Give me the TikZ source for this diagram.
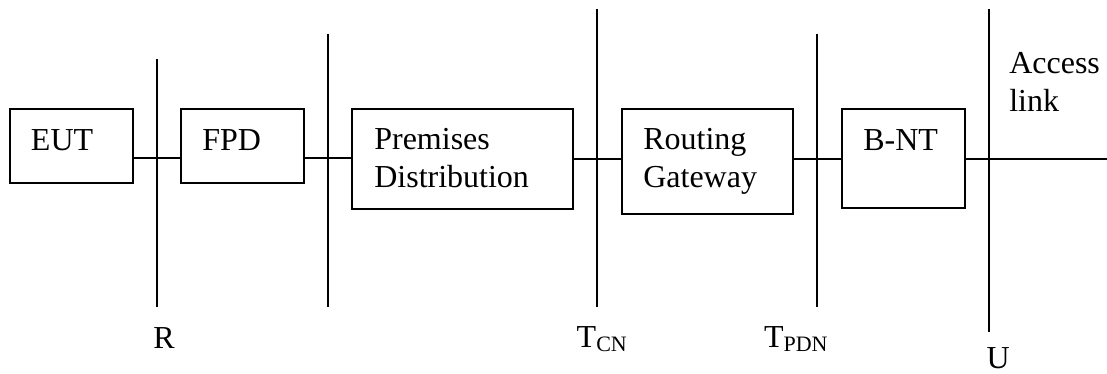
\documentclass[tikz,border=0pt]{standalone}
\usepackage{fontspec}
\setmainfont{Liberation Serif}
\begin{document}
\begin{tikzpicture}[x=0.5pt,y=-0.5pt,
  every node/.style={inner sep=0pt, outer sep=0pt},
  unit/.style={draw, rectangle, line width=1pt, anchor=north west},
  txt/.style={anchor=base west, align=left, font=\fontsize{16}{18.9}\selectfont},
  refline/.style={line width=1pt},
  link/.style={line width=1pt}]
\newcommand{\sub}[1]{\raisebox{-2pt}{\fontsize{11}{13}\selectfont #1}}
\useasboundingbox (0,0) rectangle (1107,374);

% functional units
\node[unit, minimum width=61.5pt,  minimum height=37pt]   (EUT)  at (9.5,109)   {};
\node[unit, minimum width=61.35pt, minimum height=37pt]   (FPD)  at (181,109)   {};
\node[unit, minimum width=110.5pt, minimum height=50pt]   (PD)   at (352.3,109) {};
\node[unit, minimum width=85.8pt,  minimum height=52.5pt] (RG)   at (621.7,109) {};
\node[unit, minimum width=61.35pt, minimum height=49.65pt](BNT)  at (842,109)   {};

% unit names (base anchor of a two-line node sits on its last line)
\node[txt] (tEUT) at (31,150)      {EUT};
\node[txt] (tFPD) at (202.3,150)   {FPD};
\node[txt] (tPD)  at (374.3,187.3) {Premises\\Distribution};
\node[txt] (tRG)  at (643.3,187)   {Routing\\Gateway};
\node[txt] (tBNT) at (863.3,150.7) {B-NT};

% reference points
\coordinate (Rtop)   at (156.7,59); \coordinate (Rbot)   at (156.7,307);
\coordinate (Stop)   at (328.3,34); \coordinate (Sbot)   at (328.3,307);
\coordinate (Ttop)   at (597,9);    \coordinate (Tbot)   at (597,307);
\coordinate (Ptop)   at (817.3,34); \coordinate (Pbot)   at (817.3,307);
\coordinate (Utop)   at (988.7,9);  \coordinate (Ubot)   at (988.7,332);
\draw[refline] (Rtop) -- (Rbot);
\draw[refline] (Stop) -- (Sbot);
\draw[refline] (Ttop) -- (Tbot);
\draw[refline] (Ptop) -- (Pbot);
\draw[refline] (Utop) -- (Ubot);

% interconnections
\coordinate (busA) at (0,158.4);
\coordinate (busB) at (0,159);
\coordinate (lineend) at (1107,159);
\draw[link] (EUT.east |- busA) -- (FPD.west |- busA);
\draw[link] (FPD.east |- busA) -- (PD.west |- busA);
\draw[link] (PD.east |- busB) -- (RG.west |- busB);
\draw[link] (RG.east |- busB) -- (BNT.west |- busB);
\draw[link] (BNT.east |- busB) -- (lineend);

% reference point labels
\node[txt] (lR)   at (153.3,348.3) {R};
\node[txt] (lTCN) at (576.7,347.7) {T\sub{CN}};
\node[txt] (lTPD) at (764,347.7)   {T\sub{PDN}};
\node[txt] (lU)   at (986.7,368.5) {U};
\node[txt] (lAcc) at (1009.3,111.7) {Access\\link};
\end{tikzpicture}
\end{document}
